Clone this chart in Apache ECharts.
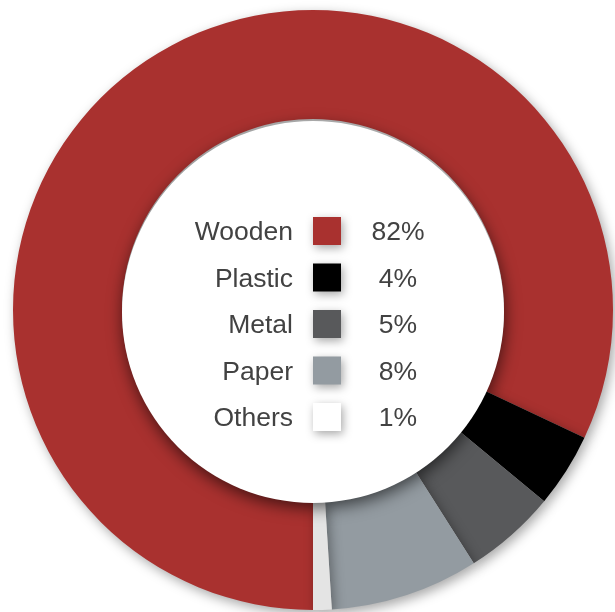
<!DOCTYPE html>
<html>
<head>
<meta charset="utf-8">
<script src="https://cdn.jsdelivr.net/npm/echarts@6/dist/echarts.min.js"></script>
<style>
html,body{margin:0;padding:0;background:#fff;}
#chart{width:615px;height:612px;}
</style>
</head>
<body>
<div id="chart"></div>
<script>
const categories = ['Wooden', 'Plastic', 'Metal', 'Paper', 'Others'];
const values = [82, 4, 5, 8, 1];
const colors = ['#a9312f', '#000000', '#58595b', '#939ba1', '#ffffff'];
const sliceColors = ['#a9312f', '#000000', '#58595b', '#939ba1', '#e4e4e4'];

const chart = echarts.init(document.getElementById('chart'), null, {renderer: 'canvas'});

const cx = 313, cy = 310;
const legendTop = 231, rowGap = 46.5;
const font = '26.5px "Liberation Sans", Arial, sans-serif';
const graphics = [];
categories.forEach((c, i) => {
  const y = legendTop + i * rowGap;
  graphics.push({
    type: 'text', x: 293, y: y + 2, z: 10,
    style: {text: c, fill: '#424242', font: font, align: 'right', verticalAlign: 'middle'}
  });
  graphics.push({
    type: 'rect', x: 313, y: y - 14, z: 10,
    shape: {width: 28, height: 28},
    style: {fill: colors[i], shadowBlur: 10, shadowColor: 'rgba(0,0,0,0.35)', shadowOffsetX: 2, shadowOffsetY: 3}
  });
  graphics.push({
    type: 'text', x: 398, y: y + 2, z: 10,
    style: {text: values[i] + '%', fill: '#424242', font: font, align: 'center', verticalAlign: 'middle'}
  });
});

chart.setOption({
  animation: false,
  backgroundColor: '#ffffff',
  series: [
    {
      type: 'pie',
      center: [cx, cy],
      radius: [191, 300],
      startAngle: 270,
      clockwise: true,
      label: {show: false},
      labelLine: {show: false},
      silent: true,
      itemStyle: {
        borderWidth: 0,
        shadowBlur: 12,
        shadowColor: 'rgba(0,0,0,0.35)',
        shadowOffsetX: 3,
        shadowOffsetY: 4
      },
      data: categories.map((c, i) => ({name: c, value: values[i], itemStyle: {color: sliceColors[i]}}))
    },
    {
      type: 'pie',
      center: [cx, cy + 2],
      radius: [0, 191],
      silent: true,
      label: {show: false},
      labelLine: {show: false},
      itemStyle: {
        color: '#ffffff',
        shadowBlur: 16,
        shadowColor: 'rgba(0,0,0,0.6)',
        shadowOffsetX: 1,
        shadowOffsetY: 5
      },
      data: [{name: 'center', value: 1}]
    }
  ],
  graphic: graphics
});
</script>
</body>
</html>
